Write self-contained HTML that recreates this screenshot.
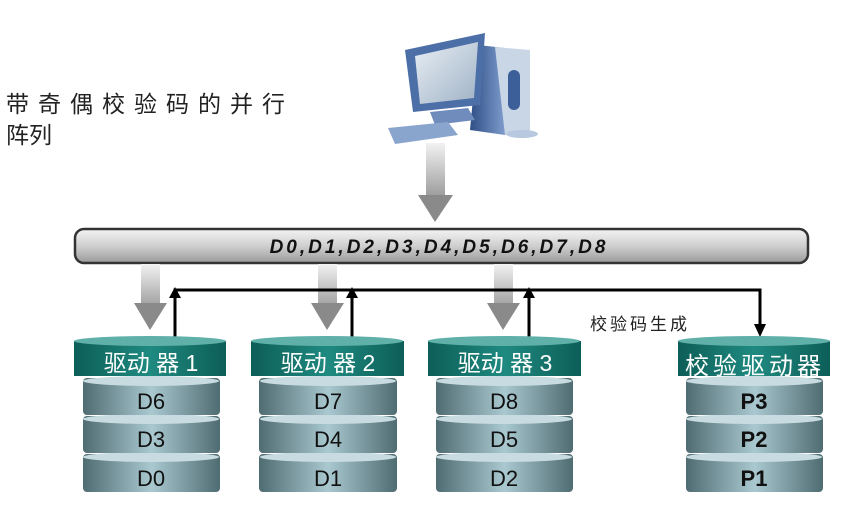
<!DOCTYPE html>
<html><head><meta charset="utf-8"><style>
html,body{margin:0;padding:0;background:#fff;width:851px;height:513px;overflow:hidden}
text{font-family:"Liberation Sans","Noto Sans CJK SC",sans-serif}
</style></head><body>
<svg width="851" height="513" viewBox="0 0 851 513" xmlns="http://www.w3.org/2000/svg">
<defs>
<linearGradient id="bus" x1="0" y1="0" x2="0" y2="1">
<stop offset="0" stop-color="#f4f4f4"/><stop offset="0.5" stop-color="#cfcfcf"/><stop offset="1" stop-color="#9a9a9a"/></linearGradient>
<linearGradient id="arr" x1="0" y1="0" x2="0" y2="1">
<stop offset="0" stop-color="#f2f2f2"/><stop offset="1" stop-color="#9a9a9a"/></linearGradient>
<linearGradient id="layer" x1="0" y1="0" x2="1" y2="0">
<stop offset="0" stop-color="#4f6c72"/><stop offset="0.5" stop-color="#a9c8cf"/><stop offset="1" stop-color="#4f6c72"/></linearGradient>
<linearGradient id="hdr" x1="0" y1="0" x2="1" y2="0">
<stop offset="0" stop-color="#0d5e58"/><stop offset="0.5" stop-color="#1f8a80"/><stop offset="1" stop-color="#0d5e58"/></linearGradient>
<linearGradient id="scr" x1="0" y1="0" x2="1" y2="1">
<stop offset="0" stop-color="#e8eef4"/><stop offset="1" stop-color="#9fb2c6"/></linearGradient>
<linearGradient id="body" x1="0" y1="0" x2="1" y2="0">
<stop offset="0" stop-color="#2e4f86"/><stop offset="1" stop-color="#7f9ccc"/></linearGradient>
</defs>

<text x="6" y="112" font-size="23" fill="#222" letter-spacing="9">带奇偶校验码的并行</text>
<text x="6" y="143" font-size="23" fill="#222">阵列</text>

<g>
<polygon points="478,45 505,48 505,135 470,130" fill="url(#body)"/>
<polygon points="495,47 530,50 530,132 505,135" fill="#c9d6e6"/>
<rect x="508" y="70" width="12" height="40" rx="6" fill="#3d5f99"/>
<polygon points="405,50 485,33 480,105 413,112" fill="#4d6fa8"/>
<polygon points="415,56 478,42 474,98 420,104" fill="url(#scr)"/>
<polygon points="430,112 468,108 475,120 435,125" fill="#6f8cbc"/>
<polygon points="388,128 448,122 458,135 395,144" fill="#8aa5cd"/>
<ellipse cx="522" cy="134" rx="16" ry="4" fill="#b8c8de"/>
</g>
<rect x="426" y="143" width="19" height="55" fill="url(#arr)"/>
<polygon points="418,195 453,195 435,222" fill="#8a8a8a"/>

<rect x="75" y="229" width="733" height="34" rx="9" fill="url(#bus)" stroke="#333" stroke-width="2.5"/>
<text x="439" y="253" font-size="19" font-weight="bold" font-style="italic" fill="#111" text-anchor="middle" letter-spacing="3">D0,D1,D2,D3,D4,D5,D6,D7,D8</text>

<g>
<rect x="141" y="264" width="19" height="45" fill="url(#arr)"/><polygon points="134,303 167,303 150,330" fill="#8a8a8a"/>
<rect x="318" y="264" width="19" height="45" fill="url(#arr)"/><polygon points="311,303 344,303 327,330" fill="#8a8a8a"/>
<rect x="494" y="264" width="19" height="45" fill="url(#arr)"/><polygon points="487,303 520,303 503,330" fill="#8a8a8a"/>
</g>

<g stroke="#000" stroke-width="3" fill="none">
<polyline points="175,337 175,290 760,290 760,328"/>
<line x1="352" y1="337" x2="352" y2="292"/>
<line x1="529" y1="337" x2="529" y2="292"/>
</g>
<g fill="#000">
<polygon points="169,298 181,298 175,287"/>
<polygon points="346,298 358,298 352,287"/>
<polygon points="523,298 535,298 529,287"/>
<polygon points="754,324 766,324 760,337"/>
</g>
<text x="590" y="330" font-size="17" fill="#222" letter-spacing="3">校验码生成</text>

<g>
<rect x="83" y="454" width="137" height="38" rx="4" fill="url(#layer)"/><ellipse cx="151" cy="457" rx="68" ry="5" fill="#c8dbe0"/>
<rect x="83" y="416" width="137" height="37" rx="4" fill="url(#layer)"/><ellipse cx="151" cy="419" rx="68" ry="5" fill="#c8dbe0"/>
<rect x="83" y="378" width="137" height="37" rx="4" fill="url(#layer)"/><ellipse cx="151" cy="381" rx="68" ry="5" fill="#c8dbe0"/>
<rect x="74" y="341" width="152" height="35" fill="url(#hdr)"/><ellipse cx="150" cy="341" rx="76" ry="5" fill="#5fb0a8"/>
<text x="151" y="371" font-size="23" fill="#fff" text-anchor="middle">驱动 器 1</text>
<text x="151" y="409" font-size="22" fill="#111" text-anchor="middle">D6</text>
<text x="151" y="447" font-size="22" fill="#111" text-anchor="middle">D3</text>
<text x="151" y="486" font-size="22" fill="#111" text-anchor="middle">D0</text>
</g>
<g>
<rect x="259" y="454" width="138" height="38" rx="4" fill="url(#layer)"/><ellipse cx="328" cy="457" rx="68" ry="5" fill="#c8dbe0"/>
<rect x="259" y="416" width="138" height="37" rx="4" fill="url(#layer)"/><ellipse cx="328" cy="419" rx="68" ry="5" fill="#c8dbe0"/>
<rect x="259" y="378" width="138" height="37" rx="4" fill="url(#layer)"/><ellipse cx="328" cy="381" rx="68" ry="5" fill="#c8dbe0"/>
<rect x="251" y="341" width="153" height="35" fill="url(#hdr)"/><ellipse cx="327" cy="341" rx="76" ry="5" fill="#5fb0a8"/>
<text x="328" y="371" font-size="23" fill="#fff" text-anchor="middle">驱动 器 2</text>
<text x="328" y="409" font-size="22" fill="#111" text-anchor="middle">D7</text>
<text x="328" y="447" font-size="22" fill="#111" text-anchor="middle">D4</text>
<text x="328" y="486" font-size="22" fill="#111" text-anchor="middle">D1</text>
</g>
<g>
<rect x="436" y="454" width="137" height="38" rx="4" fill="url(#layer)"/><ellipse cx="504" cy="457" rx="68" ry="5" fill="#c8dbe0"/>
<rect x="436" y="416" width="137" height="37" rx="4" fill="url(#layer)"/><ellipse cx="504" cy="419" rx="68" ry="5" fill="#c8dbe0"/>
<rect x="436" y="378" width="137" height="37" rx="4" fill="url(#layer)"/><ellipse cx="504" cy="381" rx="68" ry="5" fill="#c8dbe0"/>
<rect x="428" y="341" width="153" height="35" fill="url(#hdr)"/><ellipse cx="504" cy="341" rx="76" ry="5" fill="#5fb0a8"/>
<text x="505" y="371" font-size="23" fill="#fff" text-anchor="middle">驱动 器 3</text>
<text x="504" y="409" font-size="22" fill="#111" text-anchor="middle">D8</text>
<text x="504" y="447" font-size="22" fill="#111" text-anchor="middle">D5</text>
<text x="504" y="486" font-size="22" fill="#111" text-anchor="middle">D2</text>
</g>
<g>
<rect x="686" y="454" width="137" height="38" rx="4" fill="url(#layer)"/><ellipse cx="754" cy="457" rx="68" ry="5" fill="#c8dbe0"/>
<rect x="686" y="416" width="137" height="37" rx="4" fill="url(#layer)"/><ellipse cx="754" cy="419" rx="68" ry="5" fill="#c8dbe0"/>
<rect x="686" y="378" width="137" height="37" rx="4" fill="url(#layer)"/><ellipse cx="754" cy="381" rx="68" ry="5" fill="#c8dbe0"/>
<rect x="678" y="341" width="152" height="35" fill="url(#hdr)"/><ellipse cx="754" cy="341" rx="76" ry="5" fill="#5fb0a8"/>
<text x="755" y="374" font-size="24" fill="#fff" text-anchor="middle" letter-spacing="4">校验驱动器</text>
<text x="754" y="409" font-size="22" font-weight="bold" fill="#111" text-anchor="middle">P3</text>
<text x="754" y="447" font-size="22" font-weight="bold" fill="#111" text-anchor="middle">P2</text>
<text x="754" y="486" font-size="22" font-weight="bold" fill="#111" text-anchor="middle">P1</text>
</g>
</svg>
</body></html>
